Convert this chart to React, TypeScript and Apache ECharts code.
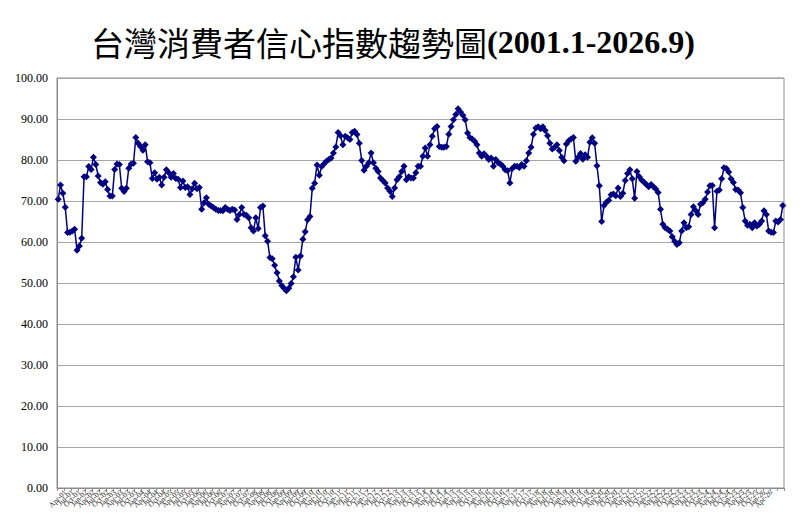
import React, { useEffect, useRef } from "react";
import * as echarts from "echarts";

const MONTH_NAMES = ["Jan", "Feb", "Mar", "Apr", "May", "Jun", "Jul", "Aug", "Sep", "Oct", "Nov", "Dec"];
const FIRST_YEAR = 2001;
const LAST_YEAR = 2026;
const LAST_MONTH = 9;

const y2001 = [70.4, 73.9, 71.9, 68.5, 62.3, 62.4, 62.7, 63.1, 58.0, 59.0, 60.9, 75.9];
const y2002 = [75.9, 78.4, 77.7, 80.7, 78.9, 76.1, 74.5, 74.1, 74.7, 72.8, 71.2, 71.2];
const y2003 = [77.7, 79.0, 78.9, 73.1, 72.3, 73.1, 78.0, 79.0, 79.2, 85.5, 84.1, 83.3];
const y2004 = [82.4, 83.7, 79.6, 79.3, 75.5, 76.9, 75.3, 75.8, 73.9, 75.8, 77.6, 76.9];
const y2005 = [75.8, 76.7, 75.5, 75.3, 73.3, 74.9, 73.3, 73.5, 71.6, 73.0, 74.3, 73.0];
const y2006 = [73.3, 68.0, 69.6, 70.8, 69.2, 68.8, 68.4, 68.0, 67.7, 67.7, 67.6, 68.4];
const y2007 = [68.0, 67.7, 68.0, 67.8, 65.5, 66.7, 68.4, 66.7, 66.5, 65.9, 63.5, 62.7];
const y2008 = [65.9, 63.3, 68.4, 68.8, 61.5, 60.2, 56.2, 55.9, 54.3, 52.5, 50.5, 49.4];
const y2009 = [48.7, 48.1, 48.7, 49.9, 51.5, 56.3, 53.2, 56.6, 60.7, 62.5, 65.4, 66.2];
const y2010 = [73.1, 74.3, 78.8, 76.3, 78.4, 79.1, 79.7, 80.1, 80.5, 81.7, 83.2, 86.7];
const y2011 = [85.9, 83.7, 85.8, 85.4, 85.0, 86.7, 87.0, 86.2, 84.1, 79.9, 77.5, 78.5];
const y2012 = [79.3, 81.7, 79.3, 78.0, 77.2, 75.6, 75.0, 74.4, 73.2, 72.4, 71.1, 73.2];
const y2013 = [75.2, 75.9, 77.2, 78.5, 75.2, 75.9, 75.6, 75.6, 76.9, 78.5, 78.5, 80.9];
const y2014 = [82.9, 80.9, 83.7, 85.8, 87.6, 88.2, 83.3, 83.1, 83.1, 83.3, 86.3, 88.2];
const y2015 = [89.8, 91.1, 92.5, 91.7, 90.9, 89.8, 86.6, 85.5, 85.1, 84.6, 83.7, 81.7];
const y2016 = [80.9, 81.5, 80.9, 80.1, 80.5, 78.5, 80.1, 79.3, 79.0, 78.5, 77.6, 77.4];
const y2017 = [74.4, 77.9, 78.5, 78.5, 78.2, 78.9, 78.5, 79.8, 81.7, 83.1, 86.3, 87.8];
const y2018 = [88.1, 87.6, 88.1, 87.2, 85.9, 84.1, 82.7, 83.1, 83.7, 82.3, 80.7, 79.8];
const y2019 = [83.9, 84.7, 85.1, 85.5, 79.7, 80.7, 81.6, 80.2, 81.3, 80.7, 84.3, 85.4];
const y2020 = [84.1, 78.6, 73.7, 65.0, 68.9, 69.7, 70.2, 71.5, 71.7, 71.3, 73.2, 71.1];
const y2021 = [71.9, 75.0, 76.7, 77.6, 75.4, 70.7, 77.2, 75.9, 75.1, 74.6, 74.0, 73.5];
const y2022 = [74.0, 73.5, 72.9, 72.1, 68.0, 64.3, 63.5, 63.1, 62.7, 61.3, 60.2, 59.4];
const y2023 = [59.8, 62.7, 64.7, 63.5, 63.7, 66.7, 68.6, 67.6, 66.7, 69.2, 69.6, 70.4];
const y2024 = [72.2, 73.7, 73.8, 63.5, 72.4, 72.7, 75.4, 78.1, 77.9, 77.1, 75.4, 74.5];
const y2025 = [72.8, 72.7, 72.0, 68.4, 65.1, 64.1, 64.3, 63.5, 64.7, 63.9, 64.3, 65.1];
const y2026 = [67.6, 66.7, 62.7, 62.4, 62.3, 65.1, 64.9, 65.5, 68.9];

const yearly = [
  y2001, y2002, y2003, y2004, y2005, y2006, y2007, y2008, y2009, y2010, y2011, y2012, y2013,
  y2014, y2015, y2016, y2017, y2018, y2019, y2020, y2021, y2022, y2023, y2024, y2025, y2026,
];

const Y_TICKS = [0, 10, 20, 30, 40, 50, 60, 70, 80, 90, 100];

const TITLE_ZH = "台灣消費者信心指數趨勢圖";
const TITLE_RANGE = "(2001.1-2026.9)";

function buildCategories(): string[] {
  const out: string[] = [];
  for (let y = FIRST_YEAR; y <= LAST_YEAR; y++) {
    const lastM = y === LAST_YEAR ? LAST_MONTH : 12;
    for (let m = 0; m < lastM; m++) {
      out.push(MONTH_NAMES[m] + "-" + String(y % 100).padStart(2, "0"));
    }
  }
  return out;
}

export default function App() {
  const ref = useRef<HTMLDivElement>(null);

  useEffect(() => {
    if (!ref.current) return;
    const chart = echarts.init(ref.current, undefined, { renderer: "svg" });
    const categories = buildCategories();
    const values = ([] as number[]).concat(...yearly);

    chart.setOption({
      animation: false,
      backgroundColor: "#ffffff",
      title: {
        left: 86,
        top: 20,
        text: "{a|" + TITLE_ZH + "}{b|" + TITLE_RANGE + "}",
        textStyle: {
          rich: {
            a: {
              fontFamily: "Noto Sans CJK TC",
              fontSize: 33,
              fontWeight: "normal",
              color: "#000",
            },
            b: {
              fontFamily: "Liberation Serif",
              fontSize: 32,
              fontWeight: "bold",
              color: "#000",
            },
          },
        },
      },
      grid: {
        left: 57,
        right: 16,
        top: 78,
        bottom: 28,
        show: true,
        borderColor: "#8c8c8c",
        borderWidth: 1,
      },
      xAxis: {
        type: "category",
        data: categories,
        boundaryGap: true,
        axisLine: { lineStyle: { color: "#8c8c8c", width: 1 } },
        axisTick: { show: true, interval: 2, length: 3, inside: false, lineStyle: { color: "#8c8c8c" } },
        axisLabel: {
          interval: 2,
          rotate: 45,
          fontSize: 7.5,
          margin: 3,
          color: "#222",
          fontFamily: "Liberation Serif",
        },
        splitLine: { show: false },
      },
      yAxis: {
        type: "value",
        min: Y_TICKS[0],
        max: Y_TICKS[Y_TICKS.length - 1],
        interval: 10,
        axisLine: { show: true, lineStyle: { color: "#8c8c8c" } },
        axisTick: { show: false },
        axisLabel: {
          formatter: (v: number) => v.toFixed(2),
          fontSize: 12,
          color: "#000",
          fontFamily: "Liberation Serif",
          margin: 9,
        },
        splitLine: { show: true, lineStyle: { color: "#a6a6a6", width: 1 } },
      },
      series: [
        {
          type: "line",
          data: values,
          symbol: "diamond",
          symbolSize: 7,
          showAllSymbol: true,
          lineStyle: { color: "#000080", width: 1.5 },
          itemStyle: { color: "#000080" },
        },
      ],
    });

    return () => chart.dispose();
  }, []);

  return (
    <div
      ref={ref}
      style={{ position: "fixed", left: 0, top: 0, width: 800, height: 516, background: "#fff" }}
    />
  );
}
